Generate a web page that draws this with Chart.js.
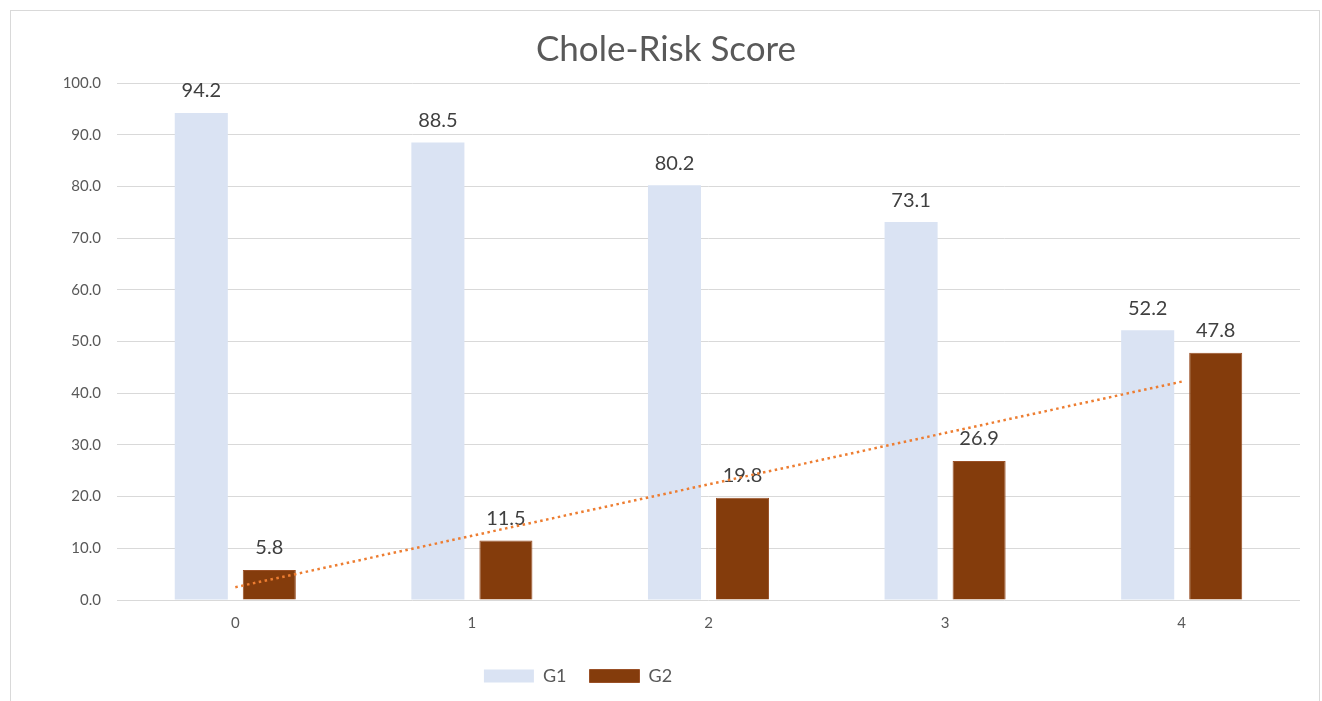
<!DOCTYPE html>
<html>
<head>
<meta charset="utf-8">
<title>Chole-Risk Score</title>
<script src="https://cdn.jsdelivr.net/npm/chart.js@4/dist/chart.umd.min.js"></script>
<style>
  html, body { margin: 0; padding: 0; background: #ffffff; }
  #wrap { position: relative; width: 1322px; height: 701px; }
  canvas { display: block; }
</style>
</head>
<body>
<div id="wrap"><canvas id="chart" width="1322" height="701"></canvas></div>
<script>
// Score categories and the two groups
const categories = ['0', '1', '2', '3', '4'];
const g1Values = [94.2, 88.5, 80.2, 73.1, 52.2];
const g2Values = [5.8, 11.5, 19.8, 26.9, 47.8];
const titleText = 'Chole-Risk Score';

// Least-squares linear trend of G2 across the categories
function linearTrend(values) {
  const n = values.length;
  let sx = 0, sy = 0, sxy = 0, sxx = 0;
  values.forEach((y, x) => { sx += x; sy += y; sxy += x * y; sxx += x * x; });
  const slope = (n * sxy - sx * sy) / (n * sxx - sx * sx);
  const intercept = (sy - slope * sx) / n;
  return values.map((_, x) => intercept + slope * x);
}
const g2Trend = linearTrend(g2Values);

const FONT = 'Lato, "Open Sans", "Liberation Sans", sans-serif';

// White background plus the thin frame around the chart
const framePlugin = {
  id: 'frame',
  beforeDraw(chart) {
    const ctx = chart.ctx;
    ctx.save();
    ctx.fillStyle = '#ffffff';
    ctx.fillRect(0, 0, chart.width, chart.height);
    ctx.strokeStyle = '#d9d9d9';
    ctx.lineWidth = 1;
    ctx.strokeRect(10.5, 10.5, 1309, 720);
    ctx.restore();
  }
};

// Value labels above each bar
const barLabelPlugin = {
  id: 'barLabels',
  afterDatasetDraw(chart, args) {
    const ds = chart.data.datasets[args.index];
    if (ds.type !== 'bar') return;
    const ctx = chart.ctx;
    ctx.save();
    ctx.font = '20px ' + FONT;
    ctx.fillStyle = '#404040';
    ctx.textAlign = 'center';
    ctx.textBaseline = 'middle';
    args.meta.data.forEach((el, i) => {
      ctx.fillText(ds.data[i].toFixed(1), el.x, el.y - 22);
    });
    ctx.restore();
  }
};

// Centre the title on the framed area and move the legend under the plot
const boxShiftPlugin = {
  id: 'boxShift',
  afterLayout(chart) {
    const lg = chart.legend;
    if (lg) {
      const dx = -72;
      lg.left += dx;
      lg.right += dx;
      if (lg.legendHitBoxes) lg.legendHitBoxes.forEach(b => { b.left += dx; });
    }
    const tt = chart.titleBlock;
    if (tt) {
      tt.left += 16;
      tt.right += 16;
    }
  }
};

new Chart(document.getElementById('chart'), {
  data: {
    labels: categories,
    datasets: [
      {
        type: 'bar',
        label: 'G1',
        data: g1Values,
        backgroundColor: '#dae3f3',
        borderWidth: 0,
        order: 1
      },
      {
        type: 'bar',
        label: 'G2',
        data: g2Values,
        backgroundColor: '#843c0c',
        borderColor: '#9a5026',
        borderWidth: 1,
        order: 1
      },
      {
        type: 'line',
        label: 'Linear (G2)',
        data: g2Trend,
        borderColor: '#ed7d31',
        borderWidth: 2.5,
        borderDash: [2.5, 3.5],
        borderCapStyle: 'butt',
        pointRadius: 0,
        fill: false,
        tension: 0,
        order: 0
      }
    ]
  },
  options: {
    responsive: false,
    animation: false,
    devicePixelRatio: 1,
    layout: { padding: { top: 0, bottom: 6, left: 0, right: 22 } },
    datasets: {
      bar: { categoryPercentage: 0.575, barPercentage: 0.78 }
    },
    plugins: {
      title: {
        display: true,
        text: titleText,
        color: '#595959',
        font: { family: FONT, size: 35, weight: 'normal', lineHeight: 1.2 },
        padding: { top: 29, bottom: 12 }
      },
      legend: {
        display: true,
        position: 'bottom',
        labels: {
          boxWidth: 50,
          boxHeight: 13,
          padding: 23,
          color: '#595959',
          font: { family: FONT, size: 18 },
          filter: (item) => item.text !== 'Linear (G2)'
        }
      },
      tooltip: { enabled: false }
    },
    scales: {
      x: {
        grid: { display: false, drawTicks: false },
        border: { display: false },
        ticks: {
          color: '#595959',
          font: { family: FONT, size: 15 },
          padding: 14
        },
        afterFit(scale) { scale.height = 44; }
      },
      y: {
        min: 0,
        max: 100,
        grid: { color: '#d9d9d9', lineWidth: 1, drawTicks: false },
        border: { display: false },
        ticks: {
          stepSize: 10,
          color: '#595959',
          font: { family: FONT, size: 15 },
          padding: 16,
          callback: (v) => Number(v).toFixed(1)
        },
        afterFit(scale) { scale.width = 117; }
      }
    }
  },
  plugins: [framePlugin, barLabelPlugin, boxShiftPlugin]
});
</script>
</body>
</html>
